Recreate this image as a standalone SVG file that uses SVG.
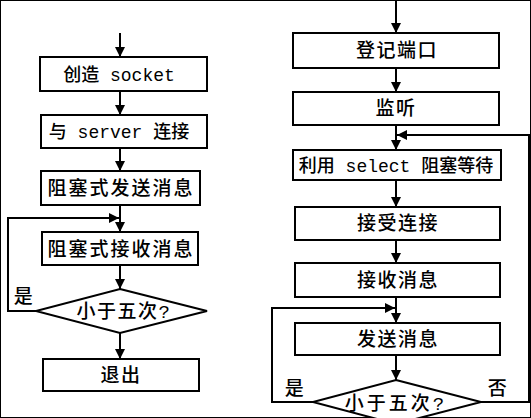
<svg xmlns="http://www.w3.org/2000/svg" width="531" height="418" viewBox="0 0 531 418">
<defs>
<marker id="ah" viewBox="0 0 10 10" refX="10" refY="5" markerWidth="10" markerHeight="10" markerUnits="userSpaceOnUse" orient="auto">
<path d="M0,0 L10,5 L0,10 Z" fill="#000"/>
</marker>
</defs>
<style>
rect,polygon{fill:#fff;stroke:#000;stroke-width:2}
.c{fill:none;stroke:#000;stroke-width:2}
.a{marker-end:url(#ah)}
text{font-family:"Liberation Mono","Noto Sans CJK SC",monospace;font-size:19px;font-weight:500;fill:#000;text-anchor:middle;letter-spacing:1.5px}
.m{font-size:18px;letter-spacing:0}
</style>
<rect width="531" height="418" fill="#fff" stroke="none"/>
<g id="connectors">
<line class="c a" x1="120" y1="33" x2="120" y2="57"/>
<line class="c a" x1="120" y1="91" x2="120" y2="115"/>
<line class="c a" x1="120" y1="148" x2="120" y2="171"/>
<line class="c a" x1="120" y1="205" x2="120" y2="232"/>
<polyline class="c a" points="36,311 8,311 8,218 119,218"/>
<line class="c a" x1="120" y1="265" x2="120" y2="289"/>
<line class="c a" x1="120" y1="333" x2="120" y2="359"/>
<line class="c a" x1="396" y1="0" x2="396" y2="33"/>
<line class="c a" x1="396" y1="68" x2="396" y2="92"/>
<line class="c a" x1="396" y1="125" x2="396" y2="150"/>
<polyline class="c a" points="481,402 529,402 529,135 397,135"/>
<line class="c a" x1="396" y1="180" x2="396" y2="207"/>
<line class="c a" x1="396" y1="240" x2="396" y2="263"/>
<line class="c a" x1="396" y1="297" x2="396" y2="323"/>
<polyline class="c a" points="313,402 272,402 272,308 395,308"/>
<line class="c a" x1="396" y1="355" x2="396" y2="380"/>
</g>
<g id="n1"><rect x="40" y="57" width="167" height="34"/><text class="m" x="119" y="81">创造 socket</text></g>
<g id="n2"><rect x="41" y="115" width="166" height="33"/><text class="m" x="119" y="138">与 server 连接</text></g>
<g id="n3"><rect x="41" y="171" width="159" height="34"/><text x="121" y="195" style="letter-spacing:2px">阻塞式发送消息</text></g>
<g id="n4"><rect x="42" y="232" width="156" height="33"/><text x="121" y="256" style="letter-spacing:2px">阻塞式接收消息</text></g>
<g id="n5"><polygon points="120,289 207,311 120,333 36,311"/><text x="124" y="318">小于五次?</text></g>
<g id="n6"><rect x="43" y="359" width="156" height="32"/><text x="121" y="382">退出</text></g>
<g id="l1"><text x="24" y="303">是</text></g>
<g id="r1"><rect x="293" y="33" width="206" height="35"/><text x="397" y="57">登记端口</text></g>
<g id="r2"><rect x="293" y="92" width="206" height="33"/><text x="396" y="115">监听</text></g>
<g id="r3"><rect x="293" y="150" width="208" height="30"/><text class="m" x="396" y="172">利用 select 阻塞等待</text></g>
<g id="r4"><rect x="295" y="207" width="205" height="33"/><text x="398" y="230">接受连接</text></g>
<g id="r5"><rect x="295" y="263" width="205" height="34"/><text x="398" y="287">接收消息</text></g>
<g id="r6"><rect x="295" y="323" width="205" height="32"/><text x="398" y="346">发送消息</text></g>
<g id="r7"><polygon points="396,380 481,402 396,424 313,402"/><text x="396" y="410" style="letter-spacing:3px">小于五次?</text></g>
<g id="l2"><text x="295" y="395">是</text></g>
<g id="l3"><text x="498" y="395">否</text></g>
</svg>
